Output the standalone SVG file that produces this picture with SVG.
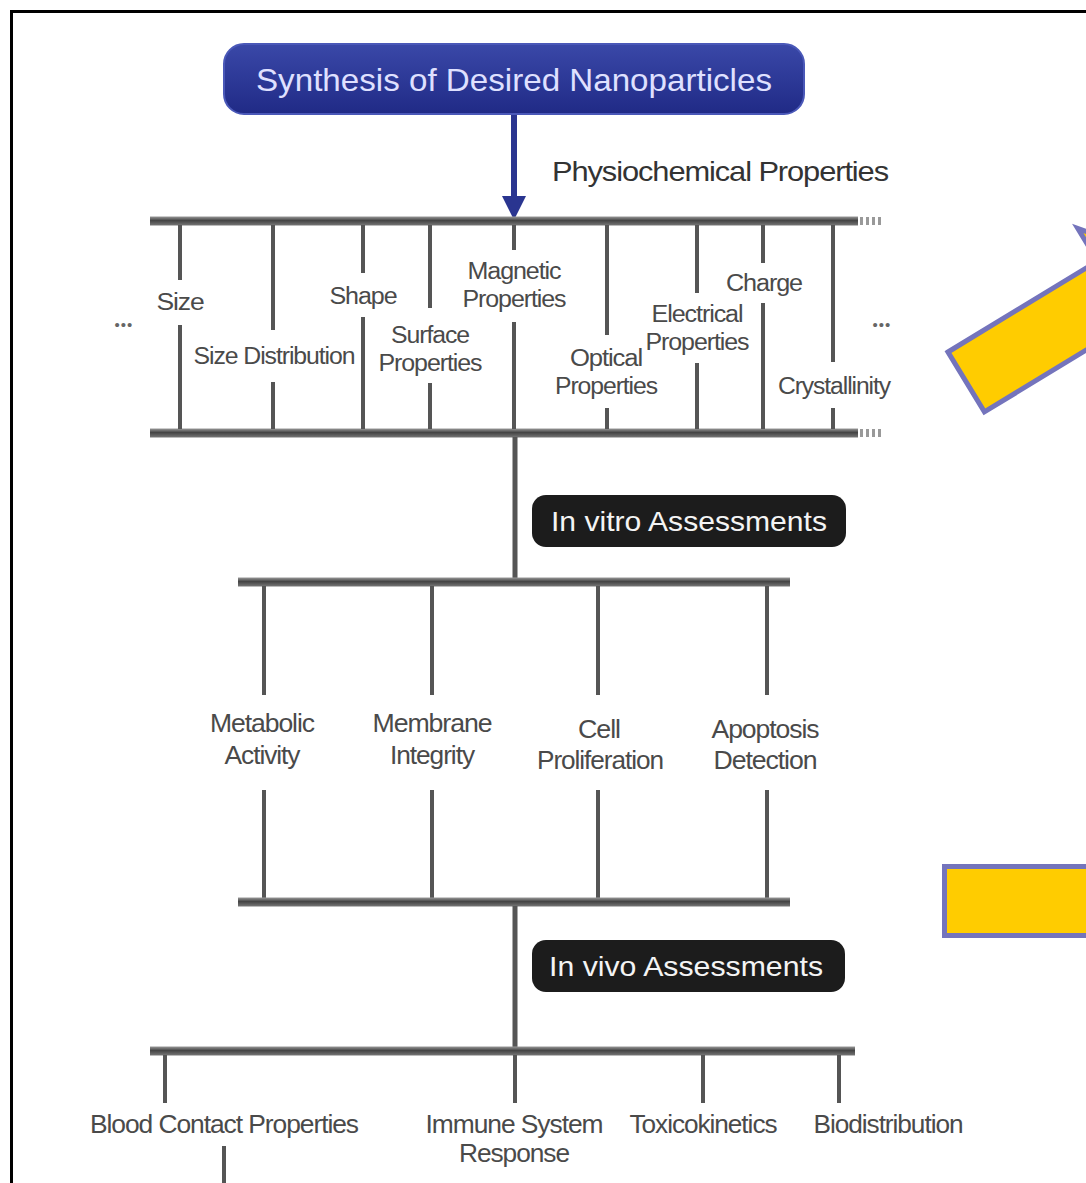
<svg xmlns="http://www.w3.org/2000/svg" width="1086" height="1183" viewBox="0 0 1086 1183">
<style>
.lbl{font-family:"Liberation Sans",Arial,sans-serif;fill:#4a4a4a;text-anchor:middle;letter-spacing:-1px}
.dots{font-family:"Liberation Sans",Arial,sans-serif;fill:#666;text-anchor:middle;font-size:15px;letter-spacing:1px}
.vl{stroke:#555;stroke-width:4;fill:none}
.rail{fill:url(#railg)}
.tick{stroke:#999;stroke-width:8;stroke-dasharray:3 3;fill:none}
.dark{fill:#1c1c1c}
.wt{font-family:"Liberation Sans",Arial,sans-serif;fill:#f4f4f4;text-anchor:middle}
.yel{fill:#FFCC00;stroke:#7474BC;stroke-width:5}
</style>
<defs>
<linearGradient id="railg" x1="0" y1="0" x2="0" y2="1">
<stop offset="0" stop-color="#999"/><stop offset="0.45" stop-color="#444"/><stop offset="1" stop-color="#777"/>
</linearGradient>
<linearGradient id="blueg" x1="0" y1="0" x2="0" y2="1">
<stop offset="0" stop-color="#3a48a8"/><stop offset="1" stop-color="#202a86"/>
</linearGradient>
</defs>
<rect x="0" y="0" width="1086" height="1183" fill="#fff"/>
<path d="M11.5 1183 V11.5 H1086" fill="none" stroke="#000" stroke-width="3"/>

<g id="yellow-arrow">
<polygon class="yel" points="948,352 1097.6,261 1077.8,228.5 1167,259.7 1153.8,353.3 1134,321 984.4,411.9"/>
</g>
<g id="yellow-box">
<rect class="yel" x="944.5" y="866.5" width="160" height="69"/>
</g>

<g id="connectors">
<line x1="514" y1="114" x2="514" y2="200" stroke="#2a3590" stroke-width="6"/>
<polygon points="502,196 526,196 514,220" fill="#2a3590"/>
<rect class="rail" x="150" y="216.5" width="708" height="9"/>
<line class="tick" x1="860" y1="221" x2="884" y2="221"/>
<rect class="rail" x="150" y="428.5" width="708" height="9"/>
<line class="tick" x1="860" y1="433" x2="884" y2="433"/>
<path class="vl" d="M180 225V280M180 325V429M273 225V330M273 382V429M363 225V273M363 317V429M430 225V308M430 383V429M514 225V250M514 322V429M607 225V335M607 408V429M697 225V293M697 363V429M763 225V263M763 303V429M833 225V362M833 408V429"/>
<line x1="515" y1="437" x2="515" y2="578" stroke="#555" stroke-width="5"/>
<rect class="rail" x="238" y="577.5" width="552" height="9"/>
<path class="vl" d="M264 586V695M264 790V898M432 586V695M432 790V898M598 586V695M598 790V898M767 586V695M767 790V898"/>
<rect class="rail" x="238" y="897.5" width="552" height="9"/>
<line x1="515" y1="906" x2="515" y2="1047" stroke="#555" stroke-width="5"/>
<rect class="rail" x="150" y="1046.5" width="705" height="9"/>
<path class="vl" d="M165 1055V1103M515 1055V1103M703 1055V1103M839 1055V1103M224 1146V1183"/>
</g>

<g id="title">
<rect x="224" y="44" width="580" height="70" rx="20" fill="url(#blueg)" stroke="#4a58b8" stroke-width="2"/>
<text x="514" y="91" font-family="'Liberation Sans',Arial,sans-serif" font-size="32" fill="#dfe0ff" text-anchor="middle" textLength="516" lengthAdjust="spacingAndGlyphs">Synthesis of Desired Nanoparticles</text>
</g>
<g id="phys-label"><text class="lbl" x="720" y="181" font-size="28" textLength="336" lengthAdjust="spacingAndGlyphs" style="fill:#333">Physiochemical Properties</text></g>

<g id="props" font-size="23">
<text class="dots" x="124" y="330">•••</text>
<text class="dots" x="882" y="330">•••</text>
<text class="lbl" x="180" y="310" textLength="47" lengthAdjust="spacingAndGlyphs">Size</text>
<text class="lbl" x="274" y="364" textLength="161" lengthAdjust="spacingAndGlyphs">Size Distribution</text>
<text class="lbl" x="363" y="304" textLength="67" lengthAdjust="spacingAndGlyphs">Shape</text>
<text class="lbl" x="430" y="343" textLength="78" lengthAdjust="spacingAndGlyphs">Surface</text>
<text class="lbl" x="430" y="371" textLength="103" lengthAdjust="spacingAndGlyphs">Properties</text>
<text class="lbl" x="514" y="279" textLength="93" lengthAdjust="spacingAndGlyphs">Magnetic</text>
<text class="lbl" x="514" y="307" textLength="103" lengthAdjust="spacingAndGlyphs">Properties</text>
<text class="lbl" x="606" y="366" textLength="72" lengthAdjust="spacingAndGlyphs">Optical</text>
<text class="lbl" x="606" y="394" textLength="102" lengthAdjust="spacingAndGlyphs">Properties</text>
<text class="lbl" x="697" y="322" textLength="91" lengthAdjust="spacingAndGlyphs">Electrical</text>
<text class="lbl" x="697" y="350" textLength="103" lengthAdjust="spacingAndGlyphs">Properties</text>
<text class="lbl" x="764" y="291" textLength="76" lengthAdjust="spacingAndGlyphs">Charge</text>
<text class="lbl" x="834" y="394" textLength="112" lengthAdjust="spacingAndGlyphs">Crystallinity</text>
</g>

<g id="invitro">
<rect class="dark" x="532" y="495" width="314" height="52" rx="14"/>
<text class="wt" x="689" y="531" font-size="28" textLength="276" lengthAdjust="spacingAndGlyphs">In vitro Assessments</text>
</g>
<g id="invitro-items" font-size="25">
<text class="lbl" x="262" y="732" textLength="104" lengthAdjust="spacingAndGlyphs">Metabolic</text>
<text class="lbl" x="262" y="764" textLength="75" lengthAdjust="spacingAndGlyphs">Activity</text>
<text class="lbl" x="432" y="732" textLength="119" lengthAdjust="spacingAndGlyphs">Membrane</text>
<text class="lbl" x="432" y="764" textLength="84" lengthAdjust="spacingAndGlyphs">Integrity</text>
<text class="lbl" x="599" y="738" textLength="42" lengthAdjust="spacingAndGlyphs">Cell</text>
<text class="lbl" x="600" y="769" textLength="126" lengthAdjust="spacingAndGlyphs">Proliferation</text>
<text class="lbl" x="765" y="738" textLength="107" lengthAdjust="spacingAndGlyphs">Apoptosis</text>
<text class="lbl" x="765" y="769" textLength="103" lengthAdjust="spacingAndGlyphs">Detection</text>
</g>

<g id="invivo">
<rect class="dark" x="532" y="940" width="313" height="52" rx="14"/>
<text class="wt" x="686" y="976" font-size="28" textLength="274" lengthAdjust="spacingAndGlyphs">In vivo Assessments</text>
</g>
<g id="invivo-items" font-size="25">
<text class="lbl" x="224" y="1133" textLength="268" lengthAdjust="spacingAndGlyphs">Blood Contact Properties</text>
<text class="lbl" x="514" y="1133" textLength="177" lengthAdjust="spacingAndGlyphs">Immune System</text>
<text class="lbl" x="514" y="1162" textLength="110" lengthAdjust="spacingAndGlyphs">Response</text>
<text class="lbl" x="703" y="1133" textLength="147" lengthAdjust="spacingAndGlyphs">Toxicokinetics</text>
<text class="lbl" x="888" y="1133" textLength="149" lengthAdjust="spacingAndGlyphs">Biodistribution</text>
</g>
</svg>
